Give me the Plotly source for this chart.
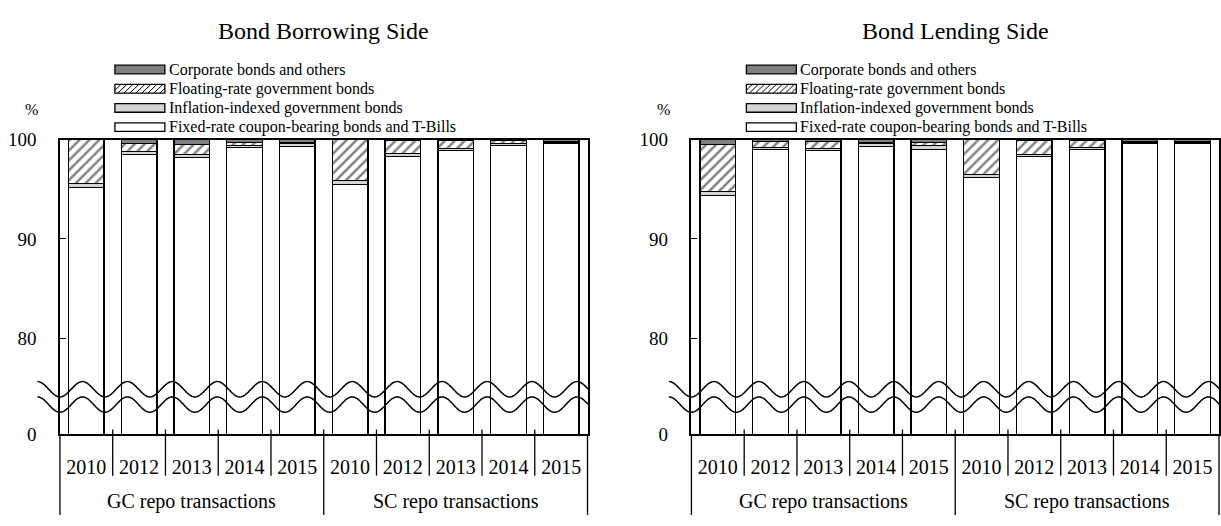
import numpy as np
import plotly.graph_objects as go

W, H = 1221, 526

groups = ["GC repo transactions", "SC repo transactions"]
years = ["2010", "2012", "2013", "2014", "2015"]
series = ["Fixed-rate coupon-bearing bonds and T-Bills",
          "Inflation-indexed government bonds",
          "Floating-rate government bonds",
          "Corporate bonds and others"]
titles = ["Bond Borrowing Side", "Bond Lending Side"]

# values in %, order: GC 2010..2015, SC 2010..2015
borrow_fixed = [95.2, 98.5, 98.2, 99.2, 99.3, 95.5, 98.3, 98.9, 99.4, 99.6]
borrow_infl = [0.4, 0.3, 0.3, 0.2, 0.3, 0.4, 0.3, 0.2, 0.2, 0.1]
borrow_float = [4.4, 0.8, 1.0, 0.3, 0.1, 4.1, 1.3, 0.8, 0.3, 0.1]
borrow_corp = [0.0, 0.4, 0.5, 0.3, 0.3, 0.0, 0.1, 0.1, 0.1, 0.2]

lend_fixed = [94.4, 99.0, 98.9, 99.3, 99.0, 96.2, 98.3, 99.0, 99.6, 99.6]
lend_infl = [0.4, 0.2, 0.2, 0.3, 0.4, 0.3, 0.2, 0.2, 0.1, 0.1]
lend_float = [4.7, 0.6, 0.7, 0.1, 0.3, 3.5, 1.4, 0.7, 0.1, 0.1]
lend_corp = [0.5, 0.2, 0.2, 0.3, 0.3, 0.0, 0.1, 0.1, 0.2, 0.2]

ytick_vals = [80, 90, 100]
ytick_text = ["0", "80", "90", "100"]

FONT = "Liberation Serif"
colors = ["white", "#d4d4d4", "white", "#7f7f7f"]
patterns = ["", "", "/", ""]

# layout in pixels
plot_top, plot_bottom = 135, 442
panels_px = [(60, 588), (692, 1220)]
y_lo = 70.3

x_ids = [f"{g} {y}" for g in groups for y in years]
data = [[borrow_fixed, borrow_infl, borrow_float, borrow_corp],
        [lend_fixed, lend_infl, lend_float, lend_corp]]

fig = go.Figure()
for p, panel in enumerate(data):
    xa = "x" if p == 0 else "x2"
    ya = "y" if p == 0 else "y2"
    for s, vals in enumerate(panel):
        fig.add_trace(go.Bar(
            x=x_ids, y=vals, name=series[s], xaxis=xa, yaxis=ya,
            marker=dict(color=colors[s], line=dict(color="black", width=1.3),
                        pattern=dict(shape=patterns[s], fgcolor="black", bgcolor="white",
                                     size=7, solidity=0.35)),
            showlegend=False, hoverinfo="y+name"))


def px(x, y):
    return x / W, 1 - y / H


ydom = [px(0, plot_bottom)[1], px(0, plot_top)[1]]
axis_common = dict(showline=True, linecolor="black", linewidth=1.5, mirror=True, showgrid=False,
                   zeroline=False)
layout = dict(width=W, height=H, margin=dict(l=0, r=0, t=0, b=0), barmode="stack", bargap=0.326,
              plot_bgcolor="white", paper_bgcolor="white",
              font=dict(family=FONT, color="black"), showlegend=False)
shapes, annotations = [], []

for p, (a0, a1) in enumerate(panels_px):
    sx = "" if p == 0 else "2"
    layout["xaxis" + sx] = dict(domain=[a0 / W, a1 / W], type="category", ticks="",
                                tickvals=x_ids, ticktext=years * len(groups),
                                tickfont=dict(size=20), anchor="y" + sx,
                                ticklabelstandoff=14, **axis_common)
    layout["yaxis" + sx] = dict(domain=ydom, range=[y_lo, 100], anchor="x" + sx,
                                tickvals=[y_lo] + ytick_vals, ticktext=ytick_text,
                                ticks="inside", ticklen=6, tickwidth=1.3, tickcolor="black",
                                tickfont=dict(size=19), ticklabelstandoff=18, **axis_common)

    step = (a1 - a0) / 10
    # category separators and group dividers
    for k in range(1, 10):
        xb = a0 + k * step
        y_end = H if k == 5 else 485
        x0, y0 = px(xb, 437)
        _, y1 = px(xb, y_end)
        shapes.append(dict(type="line", xref="paper", yref="paper", x0=x0, x1=x0, y0=y0, y1=y1,
                           line=dict(color="black", width=1.3)))
    for xb in (a0, a1):
        x0, y0 = px(xb, plot_bottom)
        _, y1 = px(xb, H)
        shapes.append(dict(type="line", xref="paper", yref="paper", x0=x0, x1=x0, y0=y0, y1=y1,
                           line=dict(color="black", width=1.3)))

    # group labels
    for g, name in enumerate(groups):
        annotations.append(dict(text=name, x=g * len(years) + (len(years) - 1) / 2,
                                xref="x" + sx, y=px(0, 512)[1], yref="paper", showarrow=False,
                                font=dict(size=20), xanchor="center", yanchor="middle"))

    # axis break waves
    lam, amp = 45.0, 8.0
    xs = np.arange(a0 - lam / 2, a1 + 1, 1.0)
    for c in (395, 411):
        ys = c + amp * np.cos(2 * np.pi * (xs - a0) / lam)
        pts = [px(x, y) for x, y in zip(xs, ys)]
        path = "M " + " L ".join(f"{u:.5f},{v:.5f}" for u, v in pts)
        shapes.append(dict(type="path", xref="paper", yref="paper", path=path,
                           line=dict(color="black", width=1.5)))

    # title
    tx, ty = px((a0 + a1) / 2, 22)
    annotations.append(dict(text=titles[p], x=tx, y=ty, xref="paper", yref="paper",
                            showarrow=False, font=dict(size=24), xanchor="center", yanchor="middle"))
    # percent sign
    ux, uy = px(a0 - 28, 104)
    annotations.append(dict(text="%", x=ux, y=uy, xref="paper", yref="paper", showarrow=False,
                            font=dict(size=16), xanchor="center", yanchor="middle"))

    # legend (top to bottom: corporate, floating, inflation, fixed)
    sw0, sw1, sh = a0 + 55, a0 + 105, 9
    for r, s in enumerate([3, 2, 1, 0]):
        yc = 62 + r * 20
        x0, y0 = px(sw0, yc + sh / 2)
        x1, y1 = px(sw1, yc - sh / 2)
        shapes.append(dict(type="rect", xref="paper", yref="paper", x0=x0, x1=x1, y0=y0, y1=y1,
                           fillcolor=colors[s], line=dict(color="black", width=1.3)))
        if patterns[s]:
            segs = []
            for cc in np.arange(sw0 + yc - sh / 2, sw1 + yc + sh / 2, 6.0):
                xa_ = max(sw0, cc - (yc + sh / 2))
                xb_ = min(sw1, cc - (yc - sh / 2))
                if xb_ > xa_:
                    p1 = px(xa_, cc - xa_)
                    p2 = px(xb_, cc - xb_)
                    segs.append(f"M {p1[0]:.5f},{p1[1]:.5f} L {p2[0]:.5f},{p2[1]:.5f}")
            shapes.append(dict(type="path", xref="paper", yref="paper", path=" ".join(segs),
                               line=dict(color="black", width=1)))
        lx, ly = px(sw1 + 2, yc)
        annotations.append(dict(text=series[s], x=lx, y=ly, xref="paper", yref="paper",
                                showarrow=False, font=dict(size=16), xanchor="left",
                                yanchor="middle"))

layout["shapes"] = shapes
layout["annotations"] = annotations
fig.update_layout(**layout)

fig.write_html("out.html", config={"displayModeBar": False},
               post_script="document.body.style.margin='0';")
